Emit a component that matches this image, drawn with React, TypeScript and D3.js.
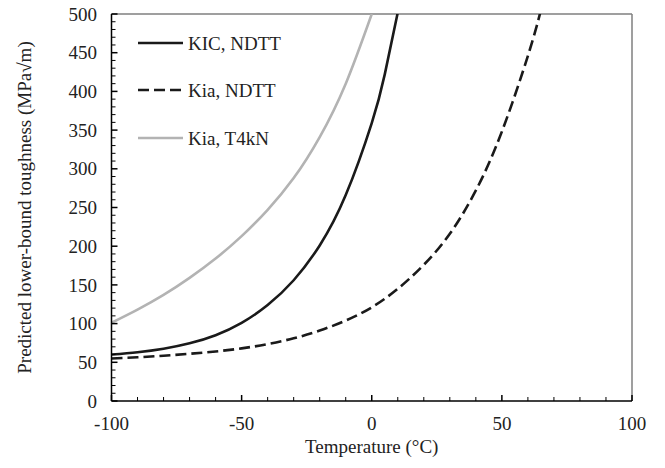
import React from "react";
import * as d3 from "d3";

const kicTemps = [-100, -90, -80, -70, -60, -50, -40, -30, -20, -10, 0, 5, 10];
const kicValues = [60, 63, 67.5, 74.5, 85, 101, 124, 156, 201, 266, 359, 422, 502];

const kiaNdttTemps = [-100, -90, -80, -70, -60, -50, -40, -30, -20, -10, 0, 10, 20, 30, 40, 50, 60, 65];
const kiaNdttValues = [55, 56.5, 58.5, 61, 64, 68, 73.5, 81, 91, 104, 121, 145, 176, 216, 272, 348, 446, 505];

const kiaT4knTemps = [-100, -90, -80, -70, -60, -50, -40, -30, -20, -10, 0];
const kiaT4knValues = [101, 118, 137, 159, 184, 213, 247, 288, 341, 410, 500];

const xTicks = [-100, -50, 0, 50, 100];
const yTicks = [0, 50, 100, 150, 200, 250, 300, 350, 400, 450, 500];

const legendLabels = ["KIC, NDTT", "Kia, NDTT", "Kia, T4kN"];

const W = 665;
const H = 468;
const L = 111.5;
const R = 632;
const T = 14;
const B = 401;
const FONT = "'Liberation Serif', 'Times New Roman', serif";
const FS = 19;

export default function App() {
  const x = d3.scaleLinear().domain([-100, 100]).range([L, R]);
  const y = d3.scaleLinear().domain([0, 500]).range([B, T]);

  const mk = (ts: number[], vs: number[]) =>
    d3
      .line<number>()
      .x((_, i) => x(ts[i]))
      .y((v) => y(v))
      .curve(d3.curveNatural)(vs) || "";

  const series = [
    { d: mk(kicTemps, kicValues), stroke: "#1a1a1a", dash: undefined as string | undefined },
    { d: mk(kiaNdttTemps, kiaNdttValues), stroke: "#1a1a1a", dash: "11,5" },
    { d: mk(kiaT4knTemps, kiaT4knValues), stroke: "#b3b3b3", dash: undefined },
  ];

  const xMinor = d3.range(-100, 101, 10);
  const yMinor = d3.range(0, 501, 10);

  const legendY = [43, 90, 138];

  return (
    <svg width={W} height={H} style={{ display: "block", position: "absolute", left: 0, top: 0 }}>
      <rect x={0} y={0} width={W} height={H} fill="#fff" />
      <defs>
        <clipPath id="plotclip">
          <rect x={L} y={T} width={R - L} height={B - T} />
        </clipPath>
      </defs>
      <line x1={L} x2={R} y1={T} y2={T} stroke="#7f7f7f" strokeWidth={1.5} />
      <line x1={R} x2={R} y1={T} y2={B} stroke="#7f7f7f" strokeWidth={1.5} />
      <g clipPath="url(#plotclip)">
        {series.map((s, i) => (
          <path key={i} d={s.d} fill="none" stroke={s.stroke} strokeWidth={2.6} strokeDasharray={s.dash} />
        ))}
      </g>
      {yMinor.map((v) => (
        <line key={"ym" + v} x1={L} x2={L + (v % 50 === 0 ? 6 : 4)} y1={y(v)} y2={y(v)} stroke="#000" strokeWidth={v % 50 === 0 ? 1.5 : 1} />
      ))}
      {xMinor.map((v) => (
        <line key={"xm" + v} x1={x(v)} x2={x(v)} y1={B} y2={B - (v % 50 === 0 ? 6 : 4)} stroke="#000" strokeWidth={v % 50 === 0 ? 1.5 : 1} />
      ))}
      <line x1={L} x2={L} y1={T} y2={B} stroke="#000" strokeWidth={1.5} />
      <line x1={L} x2={R} y1={B} y2={B} stroke="#000" strokeWidth={1.5} />
      {yTicks.map((v) => (
        <text key={"yl" + v} x={97} y={y(v)} dy="0.35em" textAnchor="end" fontFamily={FONT} fontSize={FS} fill="#222">
          {v}
        </text>
      ))}
      {xTicks.map((v) => (
        <text key={"xl" + v} x={x(v)} y={423} dy="0.35em" textAnchor="middle" fontFamily={FONT} fontSize={FS} fill="#222">
          {v}
        </text>
      ))}
      <text x={(L + R) / 2} y={446} dy="0.35em" textAnchor="middle" fontFamily={FONT} fontSize={FS} fill="#222">
        Temperature (°C)
      </text>
      <text
        transform={`translate(24,${(T + B) / 2}) rotate(-90)`}
        dy="0.35em"
        textAnchor="middle"
        fontFamily={FONT}
        fontSize={FS}
        fill="#222"
      >
        Predicted lower-bound toughness (MPa√m)
      </text>
      {series.map((s, i) => (
        <g key={"lg" + i}>
          <line x1={138} x2={183} y1={legendY[i]} y2={legendY[i]} stroke={s.stroke} strokeWidth={2.6} strokeDasharray={s.dash} />
          <text x={188} y={legendY[i]} dy="0.35em" fontFamily={FONT} fontSize={FS} fill="#222">
            {legendLabels[i]}
          </text>
        </g>
      ))}
    </svg>
  );
}
